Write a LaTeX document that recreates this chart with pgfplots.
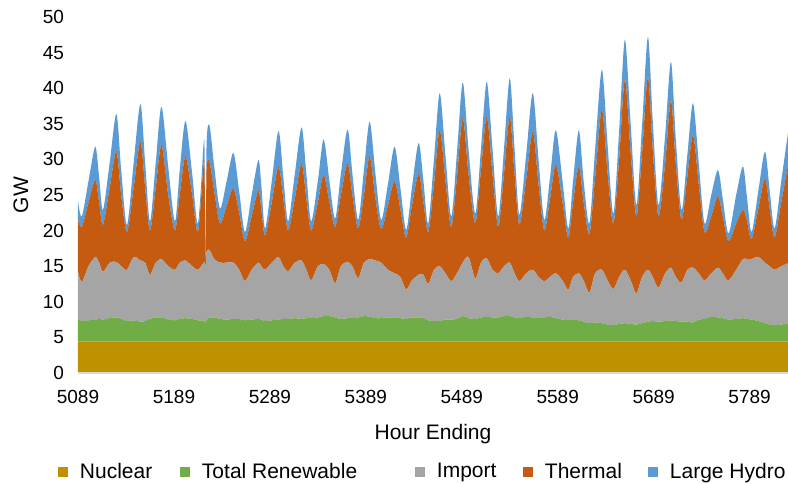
\documentclass[border=0pt]{standalone}
\usepackage{fontspec}
\setmainfont{Liberation Sans}
\usepackage{pgfplots}
\usepackage{pgfplotstable}
\pgfplotsset{compat=1.18}

\definecolor{nuclear}{HTML}{BF9000}
\definecolor{renew}{HTML}{70AD47}
\definecolor{import}{HTML}{A5A5A5}
\definecolor{thermal}{HTML}{C55A11}
\definecolor{hydro}{HTML}{5B9BD5}
\definecolor{axisgray}{HTML}{D9D9D9}

% hour  nuclear  renewable  import  thermal  large hydro  (GW)
\pgfplotstableread{
h nuc ren imp thm hyd
5089 4.4 3.1 6.7 7.3 2.6
5093 4.4 2.9 5.5 7.7 1.5
5100 4.4 3.0 7.6 9.0 3.0
5107 4.4 3.1 8.8 10.8 4.7
5111 4.4 3.2 7.9 8.5 3.5
5115 4.4 3.1 6.7 6.6 2.1
5122 4.4 3.3 7.8 10.5 3.5
5129 4.4 3.4 7.8 15.5 5.3
5134 4.4 3.2 7.4 10.0 3.5
5140 4.4 2.9 7.2 5.3 1.0
5147 4.4 3.0 8.9 9.7 3.5
5154 4.4 2.8 8.6 16.7 5.3
5159 4.4 2.9 8.2 10.5 3.5
5164 4.4 3.2 6.2 6.2 1.3
5170 4.4 3.4 7.7 10.5 3.5
5176 4.4 3.4 8.2 16.0 5.4
5183 4.4 3.1 7.5 10.0 4.0
5190 4.4 3.0 7.1 5.5 1.3
5195 4.4 3.2 7.9 9.5 3.5
5201 4.4 3.3 8.1 14.6 5.0
5208 4.4 3.2 7.4 10.0 3.0
5214 4.4 3.0 7.1 5.3 1.2
5220 4.4 3.0 8.1 14.0 2.8
5221 4.4 2.8 8.3 12.0 2.5
5222 4.4 2.6 8.0 0.0 0.0
5223 4.4 3.1 9.5 11.5 3.5
5226 4.4 3.4 9.5 12.4 5.1
5231 4.4 3.4 8.2 9.5 3.5
5237 4.4 3.2 7.9 5.5 2.1
5244 4.4 3.1 8.0 8.0 3.5
5251 4.4 3.2 7.9 10.4 5.0
5257 4.4 3.2 6.9 8.0 3.0
5263 4.4 3.0 5.5 5.6 1.3
5270 4.4 3.1 7.0 7.5 3.0
5277 4.4 3.2 7.9 10.2 4.2
5280 4.4 3.1 7.5 8.0 3.5
5284 4.4 2.9 7.2 4.8 1.0
5291 4.4 3.0 8.1 8.5 3.0
5298 4.4 3.1 8.8 12.7 5.0
5303 4.4 3.2 7.4 9.5 3.0
5308 4.4 3.2 6.7 5.7 1.3
5315 4.4 3.3 7.8 9.0 3.5
5322 4.4 3.2 8.2 13.6 5.1
5327 4.4 3.3 6.8 10.0 3.5
5332 4.4 3.3 5.3 7.0 1.3
5339 4.4 3.4 7.2 9.0 3.0
5345 4.4 3.6 7.3 12.5 5.0
5351 4.4 3.6 6.5 9.5 3.0
5357 4.4 3.4 4.8 7.9 1.2
5363 4.4 3.2 7.4 10.0 3.0
5370 4.4 3.3 7.9 13.8 4.8
5375 4.4 3.3 7.3 10.0 3.0
5381 4.4 3.4 5.5 7.0 1.2
5387 4.4 3.6 7.5 9.5 3.5
5393 4.4 3.5 8.1 14.4 4.9
5399 4.4 3.3 8.1 8.7 3.5
5405 4.4 3.3 7.8 4.7 1.3
5412 4.4 3.4 6.7 9.0 3.0
5419 4.4 3.4 6.2 12.9 4.9
5425 4.4 3.3 5.8 9.5 3.0
5431 4.4 3.2 4.1 7.3 1.1
5437 4.4 3.4 5.2 10.5 2.5
5444 4.4 3.4 6.0 14.2 4.3
5449 4.4 3.3 6.1 10.2 3.0
5454 4.4 3.0 5.1 7.3 1.2
5460 4.4 2.9 7.2 12.0 3.5
5466 4.4 2.9 7.7 19.1 5.2
5472 4.4 3.1 6.5 13.0 3.5
5478 4.4 3.1 5.4 7.6 1.5
5484 4.4 3.2 6.4 13.5 3.5
5490 4.4 3.6 7.5 20.3 5.0
5496 4.4 3.3 8.6 11.7 3.5
5503 4.4 3.2 5.7 7.7 1.4
5509 4.4 3.4 7.7 13.0 3.0
5515 4.4 3.5 8.2 19.9 4.9
5521 4.4 3.4 6.7 13.5 3.5
5527 4.4 3.4 6.2 6.5 1.5
5533 4.4 3.6 7.0 13.0 3.5
5539 4.4 3.6 7.5 20.5 5.4
5544 4.4 3.4 6.2 14.0 3.5
5549 4.4 3.3 5.2 7.9 1.4
5556 4.4 3.5 6.1 13.0 3.5
5563 4.4 3.4 6.7 19.4 5.4
5569 4.4 3.3 5.8 13.0 3.5
5575 4.4 3.4 5.1 7.1 1.5
5581 4.4 3.5 5.6 11.0 3.0
5587 4.4 3.3 6.3 15.2 4.9
5594 4.4 3.1 5.5 11.0 3.0
5600 4.4 3.0 4.3 7.3 1.3
5605 4.4 3.1 6.0 10.5 3.0
5611 4.4 3.0 6.6 15.0 5.1
5616 4.4 2.8 5.8 11.0 3.0
5622 4.4 2.6 4.3 8.2 1.5
5628 4.4 2.7 6.9 13.5 4.0
5635 4.4 2.6 7.5 22.5 5.6
5641 4.4 2.4 6.2 15.0 4.0
5647 4.4 2.3 5.1 9.2 1.4
5653 4.4 2.5 6.6 16.5 4.0
5659 4.4 2.6 7.5 26.7 5.6
5665 4.4 2.5 6.1 18.0 4.0
5671 4.4 2.4 4.4 10.8 1.6
5677 4.4 2.6 6.5 17.5 4.0
5683 4.4 2.8 7.3 27.1 5.6
5688 4.4 2.9 6.2 18.0 4.0
5694 4.4 2.8 4.8 10.0 1.6
5701 4.4 2.9 6.7 15.5 4.0
5707 4.4 3.0 7.4 23.5 5.4
5712 4.4 2.9 6.2 16.0 3.5
5718 4.4 2.8 5.5 8.8 1.4
5724 4.4 2.8 7.3 13.0 3.0
5730 4.4 2.7 7.7 18.6 4.5
5736 4.4 3.1 6.5 12.5 3.0
5742 4.4 3.2 5.4 6.8 1.2
5749 4.4 3.5 6.1 8.0 3.0
5756 4.4 3.4 7.0 10.0 3.7
5761 4.4 3.3 6.3 8.0 2.5
5767 4.4 3.1 5.5 5.5 1.1
5775 4.4 3.2 6.9 6.5 4.0
5782 4.4 3.3 8.3 6.9 6.1
5786 4.4 3.2 8.4 5.5 3.5
5791 4.4 3.1 8.5 2.8 1.0
5798 4.4 2.9 9.0 6.7 2.5
5805 4.4 2.6 8.5 11.8 3.8
5810 4.4 2.4 8.2 8.0 2.5
5815 4.4 2.3 7.8 4.5 1.3
5822 4.4 2.4 8.2 9.0 3.0
5829 4.4 2.6 8.4 13.8 4.5
}\mixdata

\begin{document}
\begin{tikzpicture}
\path[use as bounding box] (-39pt,-55pt) rectangle (355pt,186.5pt);
\begin{axis}[
    at={(0,0)}, anchor=south west,
    scale only axis,
    width=355pt, height=178pt,
    xmin=5089, xmax=5829,
    ymin=0, ymax=50,
    stack plots=y,
    area style,
    axis x line*=bottom,
    axis y line*=left,
    x axis line style={axisgray, line width=0.8pt},
    y axis line style={draw=none},
    major tick length=0pt,
    xtick={5089,5189,5289,5389,5489,5589,5689,5789},
    ytick={0,5,...,50},
    /pgf/number format/assume math mode=true,
    /pgf/number format/1000 sep={},
    tick label style={font=\fontsize{9.5}{11}\selectfont},
    xticklabel style={anchor=center, yshift=-12pt},
    yticklabel style={anchor=east, xshift=-3.5pt},
    xlabel={Hour Ending},
    ylabel={GW},
    label style={font=\fontsize{10.5}{12}\selectfont},
    xlabel style={at={(axis description cs:0.5,-0.1713)}, anchor=center},
    ylabel style={at={(axis description cs:-0.0803,0.5)}, anchor=center},
    legend columns=-1,
    legend style={at={(axis description cs:-0.0282,-0.278)}, anchor=west,
        draw=none, fill=none, inner sep=0pt, outer sep=0pt,
        column sep=0pt, font=\fontsize{10.5}{12}\selectfont,
        nodes={inner sep=0pt}},
    legend image code/.code={\fill[#1] (0pt,-2.5pt) rectangle (5pt,2.5pt);},
]
\addplot[fill=nuclear, draw=none, smooth] table[x=h, y=nuc] {\mixdata} \closedcycle;
\addlegendentry{\makebox[56pt][l]{\hspace{6pt}Nuclear}}
\addplot[fill=renew, draw=none, smooth] table[x=h, y=ren] {\mixdata} \closedcycle;
\addlegendentry{\makebox[112.5pt][l]{\hspace{6pt}Total Renewable}}
\addplot[fill=import, draw=none, smooth] table[x=h, y=imp] {\mixdata} \closedcycle;
\addlegendentry{\makebox[49pt][l]{\hspace{6pt}Import}}
\addplot[fill=thermal, draw=none, smooth] table[x=h, y=thm] {\mixdata} \closedcycle;
\addlegendentry{\makebox[57.5pt][l]{\hspace{6pt}Thermal}}
\addplot[fill=hydro, draw=none, smooth] table[x=h, y=hyd] {\mixdata} \closedcycle;
\addlegendentry{\hspace{6pt}Large Hydro}
\end{axis}
\end{tikzpicture}
\end{document}
